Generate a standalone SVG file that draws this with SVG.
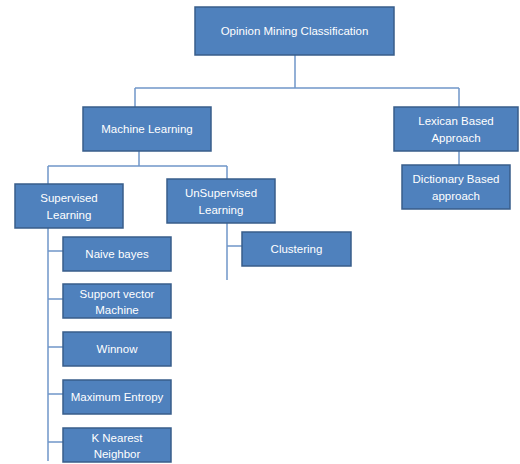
<svg xmlns="http://www.w3.org/2000/svg" width="520" height="464" viewBox="0 0 520 464">
<style>
.n rect{fill:#4F81BD;stroke:#385D8A;stroke-width:1.5}
.n text{fill:#fff;font-family:"Liberation Sans",Arial,sans-serif;font-size:11.5px;text-anchor:middle}
#conn line{stroke:#6F96C9;stroke-width:1.5}
</style>
<rect width="520" height="464" fill="#fff"/>
<g id="conn">
<line x1="295" y1="55" x2="295" y2="88"/>
<line x1="135" y1="88" x2="459" y2="88"/>
<line x1="135" y1="88" x2="135" y2="107"/>
<line x1="459" y1="88" x2="459" y2="107"/>
<line x1="139" y1="151" x2="139" y2="166"/>
<line x1="48" y1="166" x2="227" y2="166"/>
<line x1="48" y1="166" x2="48" y2="184"/>
<line x1="227" y1="166" x2="227" y2="179"/>
<line x1="459" y1="151" x2="459" y2="165"/>
<line x1="48" y1="228" x2="48" y2="461"/>
<line x1="48" y1="251" x2="63" y2="251"/>
<line x1="48" y1="299" x2="63" y2="299"/>
<line x1="48" y1="347" x2="63" y2="347"/>
<line x1="48" y1="394" x2="63" y2="394"/>
<line x1="48" y1="442" x2="63" y2="442"/>
<line x1="227" y1="223" x2="227" y2="280"/>
<line x1="227" y1="246" x2="242" y2="246"/>
</g>
<g id="root" class="n"><rect x="195" y="7" width="199" height="48"/><text x="294.5" y="35">Opinion Mining Classification</text></g>
<g id="ml" class="n"><rect x="83" y="107" width="128" height="44"/><text x="147" y="133">Machine Learning</text></g>
<g id="lex" class="n"><rect x="394" y="107" width="124" height="44"/><text x="456" y="125">Lexican Based</text><text x="456" y="142">Approach</text></g>
<g id="dict" class="n"><rect x="402" y="165" width="108" height="44"/><text x="456" y="183">Dictionary Based</text><text x="456" y="200">approach</text></g>
<g id="sup" class="n"><rect x="15" y="184" width="108" height="44"/><text x="69" y="202">Supervised</text><text x="69" y="219">Learning</text></g>
<g id="unsup" class="n"><rect x="167" y="179" width="108" height="44"/><text x="221" y="197">UnSupervised</text><text x="221" y="214">Learning</text></g>
<g id="clust" class="n"><rect x="242" y="232" width="109" height="34"/><text x="296.5" y="253">Clustering</text></g>
<g id="nb" class="n"><rect x="63" y="237" width="108" height="34"/><text x="117" y="258">Naive bayes</text></g>
<g id="svm" class="n"><rect x="63" y="284" width="108" height="34"/><text x="117" y="298">Support vector</text><text x="117" y="314">Machine</text></g>
<g id="win" class="n"><rect x="63" y="332" width="108" height="34"/><text x="117" y="353">Winnow</text></g>
<g id="me" class="n"><rect x="63" y="380" width="108" height="34"/><text x="117" y="401">Maximum Entropy</text></g>
<g id="knn" class="n"><rect x="63" y="428" width="108" height="34"/><text x="117" y="442">K Nearest</text><text x="117" y="458">Neighbor</text></g>
</svg>
